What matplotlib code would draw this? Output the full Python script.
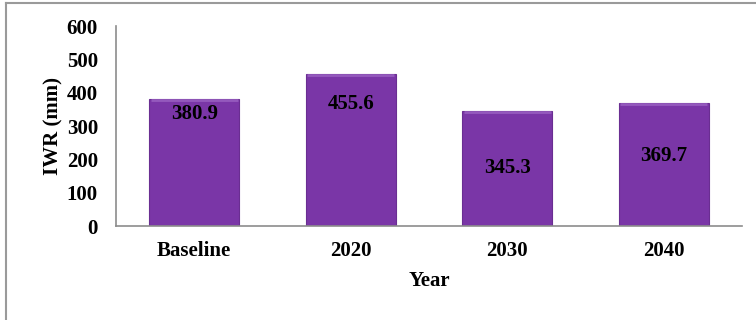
import matplotlib
matplotlib.use("Agg")
import matplotlib.pyplot as plt
from matplotlib.lines import Line2D

categories = ["Baseline", "2020", "2030", "2040"]
iwr_values = [380.9, 455.6, 345.3, 369.7]
value_labels = ["380.9", "455.6", "345.3", "369.7"]
y_ticks = [0, 100, 200, 300, 400, 500, 600]

# vertical position of each value label (style: offset below bar top, data units)
label_drop = [44, 89, 171, 159]

plt.rcParams['font.family'] = ['Liberation Serif', 'DejaVu Serif']
FS = 15

fig = plt.figure(figsize=(7.56, 3.2), dpi=100)
ax = fig.add_axes([116/756, 1 - 226/320, (742-116)/756, (226-26)/320])

x = list(range(len(categories)))
bars = ax.bar(x, iwr_values, width=0.575, color="#7A36A7",
              edgecolor="#6A2E92", linewidth=0.8, zorder=2)

# subtle top bevel highlight, drawn from each bar's own geometry
for b in bars:
    ax.plot([b.get_x() + 0.01, b.get_x() + b.get_width() - 0.01],
            [b.get_height() - 4, b.get_height() - 4],
            color="#9C63C4", linewidth=2.0, alpha=0.8, zorder=2.5,
            solid_capstyle="butt")

for xi, v, lab, d in zip(x, iwr_values, value_labels, label_drop):
    ax.text(xi, v - d, lab, ha="center", va="center", fontsize=FS,
            fontweight="bold", color="black", zorder=3)

ax.set_xlim(-0.5, 3.5)
ax.set_ylim(0, 600)
ax.set_yticks(y_ticks)
ax.set_yticklabels([str(t) for t in y_ticks], fontsize=FS, fontweight="bold")
ax.set_xticks(x)
ax.set_xticklabels(categories, fontsize=FS, fontweight="bold")
ax.tick_params(axis="both", length=0)
ax.tick_params(axis="y", pad=13)
ax.tick_params(axis="x", pad=11)

for s in ["top", "right"]:
    ax.spines[s].set_visible(False)
for s in ["left", "bottom"]:
    ax.spines[s].set_color("#8C8C8C")
    ax.spines[s].set_linewidth(1.2)

ax.set_xlabel("Year", fontsize=FS, fontweight="bold", labelpad=7)
ax.set_ylabel("IWR (mm)", fontsize=FS, fontweight="bold", labelpad=2)

# outer chart border (left and top visible)
fig.add_artist(Line2D([5.5/756, 5.5/756], [0, 1 - 3/320], transform=fig.transFigure,
                      color="#9A9A9A", linewidth=1.5))
fig.add_artist(Line2D([5.5/756, 1], [1 - 3/320, 1 - 3/320], transform=fig.transFigure,
                      color="#9A9A9A", linewidth=1.5))

fig.savefig("out.png", dpi=100)
